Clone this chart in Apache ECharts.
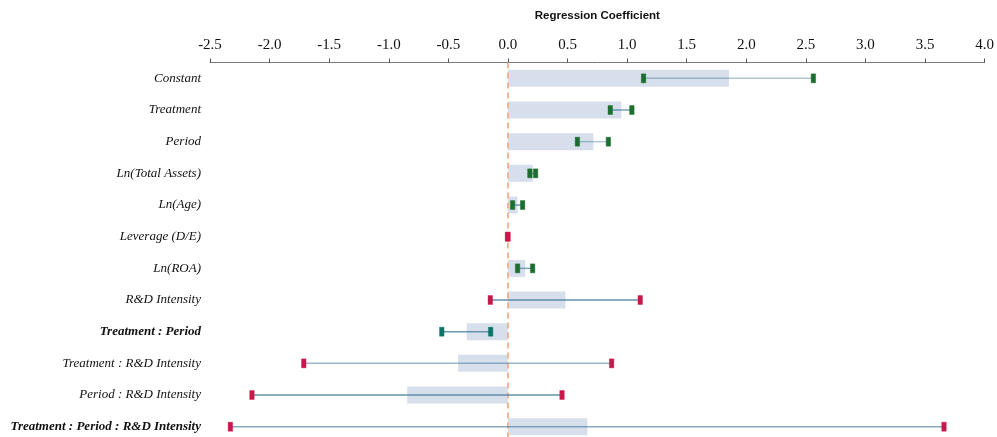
<!DOCTYPE html>
<html>
<head>
<meta charset="utf-8">
<script src="https://cdn.jsdelivr.net/npm/echarts@6/dist/echarts.min.js"></script>
<style>
  html, body { margin: 0; padding: 0; background: #fff; }
  #chart { width: 997px; height: 437px; }
</style>
</head>
<body>
<div id="chart"></div>
<script>
// Model terms, top to bottom
const terms = [
  'Constant', 'Treatment', 'Period', 'Ln(Total Assets)', 'Ln(Age)', 'Leverage (D/E)',
  'Ln(ROA)', 'R&D Intensity', 'Treatment : Period', 'Treatment : R&D Intensity',
  'Period : R&D Intensity', 'Treatment : Period : R&D Intensity'
];
// Terms printed in bold
const boldTerms = ['Treatment : Period', 'Treatment : Period : R&D Intensity'];

// Point estimates (shaded bars)
const estimates = [1.855, 0.951, 0.717, 0.209, 0.081, -0.002, 0.145, 0.483, -0.346, -0.418, -0.845, 0.667];
// Confidence interval bounds
const ciLow  = [1.138, 0.859, 0.583, 0.184, 0.039, -0.004, 0.081, -0.148, -0.555, -1.713, -2.148, -2.329];
const ciHigh = [2.563, 1.040, 0.843, 0.232, 0.123,  0.001, 0.207,  1.110, -0.145,  0.870,  0.454,  3.659];
// Significance group per term: 'pos' significant positive, 'neg' significant negative, 'ns' not significant
const sigGroup = ['pos', 'pos', 'pos', 'pos', 'pos', 'ns', 'pos', 'ns', 'neg', 'ns', 'ns', 'ns'];
// Whisker opacity per term
const whiskerAlpha = [0.45, 0.75, 0.45, 0.7, 0.75, 0.7, 0.7, 0.85, 0.8, 0.55, 0.85, 0.65];

const xTicks = [-2.5, -2.0, -1.5, -1.0, -0.5, 0.0, 0.5, 1.0, 1.5, 2.0, 2.5, 3.0, 3.5, 4.0];

const capColors = { pos: '#1b6e2f', neg: '#0c7468', ns: '#c8174a' };

// Row pitch in pixels; the category ticks sit on row centres
const rowPitch = 31.67;
const gridTop = 62.5 + rowPitch / 2;

const chart = echarts.init(document.getElementById('chart'), null, { renderer: 'canvas' });

const ciData = terms.map((t, i) => [ciLow[i], ciHigh[i], i, sigGroup[i], whiskerAlpha[i]]);

chart.setOption({
  animation: false,
  grid: { left: 210, top: gridTop, width: 777, height: rowPitch * (terms.length - 1), containLabel: false },
  xAxis: {
    type: 'value',
    position: 'top',
    offset: rowPitch / 2,
    min: xTicks[0],
    max: xTicks[xTicks.length - 1],
    interval: 0.5,
    name: 'Regression Coefficient',
    nameLocation: 'middle',
    nameGap: 41,
    nameTextStyle: { fontFamily: 'Liberation Sans', fontWeight: 'bold', fontSize: 11.5, color: '#111' },
    axisLine: { show: true, lineStyle: { color: '#7a7a7a', width: 1 } },
    axisTick: { show: true, inside: false, length: 4, lineStyle: { color: '#555' } },
    axisLabel: {
      margin: 10,
      fontFamily: 'Liberation Serif',
      fontSize: 15,
      color: '#111',
      formatter: v => v.toFixed(1)
    },
    splitLine: { show: false }
  },
  yAxis: {
    type: 'category',
    data: terms,
    inverse: true,
    boundaryGap: false,
    axisLine: { show: false },
    axisTick: { show: false },
    splitLine: { show: false },
    axisLabel: {
      margin: 9,
      fontFamily: 'Liberation Serif',
      fontStyle: 'italic',
      fontSize: 13,
      color: '#111',
      formatter: v => boldTerms.includes(v) ? '{b|' + v + '}' : v,
      rich: {
        b: { fontFamily: 'Liberation Serif', fontStyle: 'italic', fontWeight: 'bold', fontSize: 13, color: '#111' }
      }
    }
  },
  series: [
    {
      type: 'bar',
      data: estimates,
      barWidth: 17,
      clip: false,
      itemStyle: { color: 'rgba(200,210,228,0.7)' },
      z: 2
    },
    {
      // dashed zero reference line spanning all rows
      type: 'custom',
      data: [[0]],
      encode: { x: 0 },
      clip: false,
      z: 3,
      renderItem: function (params, api) {
        const x = api.coord([api.value(0), 0])[0];
        const cs = params.coordSys;
        return {
          type: 'line',
          shape: { x1: x, y1: cs.y - rowPitch / 2, x2: x, y2: cs.y + cs.height + rowPitch },
          style: { stroke: '#f1ab85', lineWidth: 1.7, lineDash: [6, 4] }
        };
      }
    },
    {
      type: 'custom',
      data: ciData,
      encode: { x: [0, 1], y: 2 },
      clip: false,
      z: 5,
      renderItem: function (params, api) {
        const lo = api.coord([api.value(0), api.value(2)]);
        const hi = api.coord([api.value(1), api.value(2)]);
        const grp = ciData[params.dataIndex][3];
        const alpha = ciData[params.dataIndex][4];
        const col = capColors[grp];
        const w = 4.5, h = 9;
        return {
          type: 'group',
          children: [
            {
              type: 'line',
              shape: { x1: lo[0], y1: lo[1], x2: hi[0], y2: hi[1] },
              style: { stroke: 'rgba(70,128,158,' + alpha + ')', lineWidth: 1.5 }
            },
            {
              type: 'rect',
              shape: { x: lo[0] - w / 2, y: lo[1] - h / 2, width: w, height: h },
              style: { fill: col, stroke: col, lineWidth: 1, strokeOpacity: 0.4 }
            },
            {
              type: 'rect',
              shape: { x: hi[0] - w / 2, y: hi[1] - h / 2, width: w, height: h },
              style: { fill: col, stroke: col, lineWidth: 1, strokeOpacity: 0.4 }
            }
          ]
        };
      }
    }
  ]
});
</script>
</body>
</html>
